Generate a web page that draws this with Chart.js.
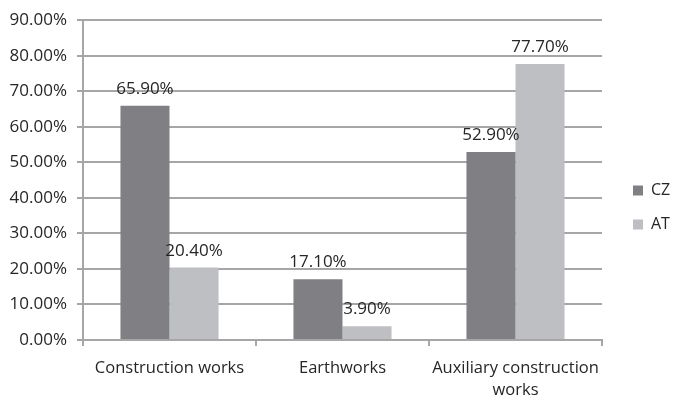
<!DOCTYPE html>
<html>
<head>
<meta charset="utf-8">
<script src="https://cdn.jsdelivr.net/npm/chart.js@4.4.0/dist/chart.umd.min.js"></script>
<style>
html,body{margin:0;padding:0;background:#fff;}
#wrap{width:673px;height:397px;position:relative;}
</style>
</head>
<body>
<div id="wrap"><canvas id="c" width="673" height="397"></canvas></div>
<script>
const categories = ["Construction works", "Earthworks", ["Auxiliary construction", "works"]];
const seriesNames = ["CZ", "AT"];
const czValues = [65.9, 17.1, 52.9];
const atValues = [20.4, 3.9, 77.7];
const yTicks = [0, 10, 20, 30, 40, 50, 60, 70, 80, 90];

const FONT = "'Open Sans', 'Liberation Sans', sans-serif";
const TEXT = '#262626';
const GRID = '#a6a6a6';

const labelPlugin = {
  id: 'valLabels',
  afterDatasetsDraw(chart) {
    const ctx = chart.ctx;
    ctx.save();
    ctx.font = '17px ' + FONT;
    ctx.fillStyle = TEXT;
    ctx.textAlign = 'center';
    ctx.textBaseline = 'alphabetic';
    chart.data.datasets.forEach((ds, i) => {
      const meta = chart.getDatasetMeta(i);
      meta.data.forEach((bar, j) => {
        ctx.fillText(ds.data[j].toFixed(2) + '%', bar.x, bar.y - 12);
      });
    });
    ctx.restore();
  }
};

const legendFix = {
  id: 'legendFix',
  afterInit(chart) {
    const lg = chart.legend;
    if (lg) {
      const orig = lg.fit.bind(lg);
      lg.fit = function() { orig(); this.width = 71; };
      const origDraw = lg.draw.bind(lg);
      lg.draw = function() {
        const ctx = chart.ctx;
        ctx.save();
        ctx.translate(13, 0);
        origDraw();
        ctx.restore();
      };
    }
  }
};

new Chart(document.getElementById('c'), {
  type: 'bar',
  data: {
    labels: categories,
    datasets: [
      { label: seriesNames[0], data: czValues, backgroundColor: '#808084' },
      { label: seriesNames[1], data: atValues, backgroundColor: '#bebfc3' }
    ]
  },
  options: {
    responsive: false,
    animation: false,
    devicePixelRatio: 1,
    layout: { padding: { top: 18, left: 0, right: 0, bottom: 0 } },
    datasets: { bar: { categoryPercentage: 0.567, barPercentage: 1.0 } },
    plugins: {
      legend: {
        position: 'right',
        align: 'center',
        labels: {
          font: { family: FONT, size: 16 },
          color: TEXT,
          boxWidth: 10,
          boxHeight: 10,
          padding: 18
        }
      },
      tooltip: { enabled: false }
    },
    scales: {
      x: {
        grid: { display: true, drawOnChartArea: false, drawTicks: true, tickLength: 6, color: GRID, lineWidth: 2, offset: true },
        border: { display: true, color: GRID, width: 2 },
        ticks: { font: { family: FONT, size: 16.5, lineHeight: 1.35 }, color: TEXT, padding: 11, maxRotation: 0 },
        afterFit(s) { s.height = 57; }
      },
      y: {
        min: 0, max: 90,
        afterBuildTicks(s) { s.ticks = yTicks.map(v => ({ value: v })); },
        grid: { color: GRID, lineWidth: 2, tickLength: 6 },
        border: { display: true, color: GRID, width: 2 },
        ticks: { font: { family: FONT, size: 17 }, color: TEXT, padding: 10, callback: v => v.toFixed(2) + '%' },
        afterFit(s) { s.width = 83; }
      }
    }
  },
  plugins: [labelPlugin, legendFix]
});
</script>
</body>
</html>
